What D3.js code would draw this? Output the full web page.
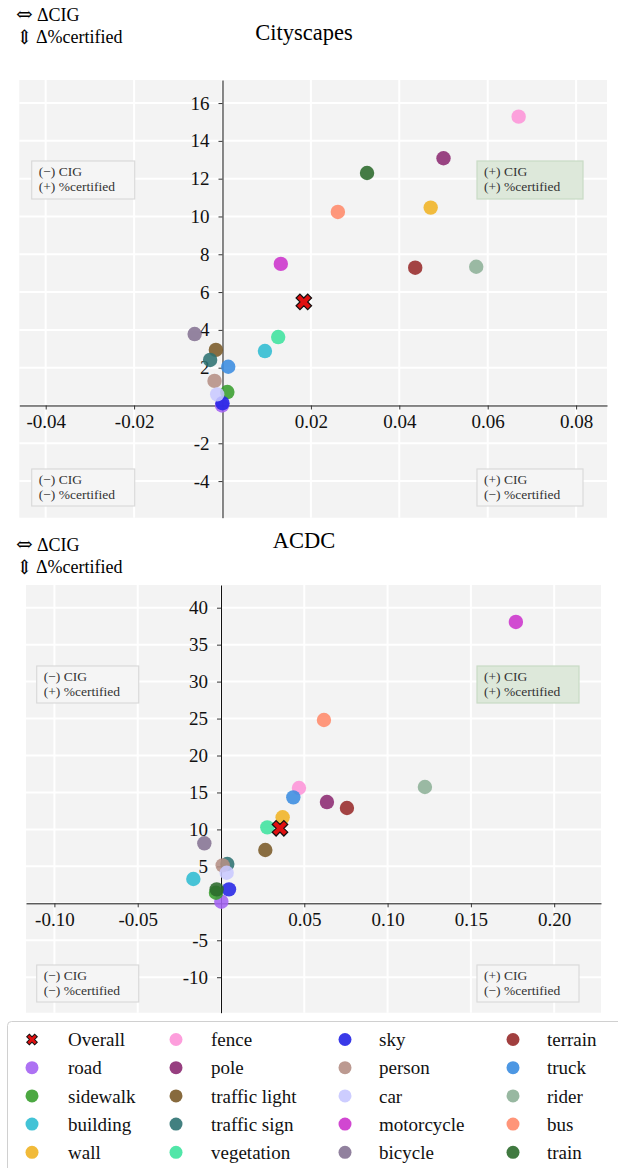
<!DOCTYPE html>
<html>
<head>
<meta charset="utf-8">
<script src="https://cdn.jsdelivr.net/npm/d3@7"></script>
<style>
  body { margin: 0; background: #fff; }
  svg, svg text { font-family: 'Liberation Serif', 'Times New Roman', Times, 'DejaVu Serif', serif !important; }
  svg text.arrow { font-family: 'DejaVu Serif', 'DejaVu Sans', serif !important; }
</style>
</head>
<body>
<div id="chart"></div>
<script>
// --- data (legend order) ---
const classes = ["road", "sidewalk", "building", "wall", "fence", "pole", "traffic light",
  "traffic sign", "vegetation", "sky", "person", "car", "motorcycle", "bicycle",
  "terrain", "truck", "rider", "bus", "train"];
const classColors = ["#a463f2", "#389e2e", "#2fbcd2", "#f0b323", "#fd94d8", "#8c2a72", "#7a5a28",
  "#2e7272", "#3ee39e", "#2424e6", "#b58f85", "#c8c8ff", "#cc33cc", "#857393",
  "#972a2a", "#3a8ce0", "#8db097", "#ff8a6a", "#2b6a2b"];

// Cityscapes: delta CIG (x) and delta %certified (y)
const cityCIG  = [-0.0001, 0.0011, 0.0096, 0.0471, 0.0670, 0.0500, -0.0015,
  -0.0028, 0.0126, 0.0000, -0.0018, -0.0012, 0.0132, -0.0063,
  0.0436, 0.0013, 0.0574, 0.0261, 0.0327];
const cityCert = [0.00, 0.71, 2.88, 10.47, 15.28, 13.08, 2.94,
  2.41, 3.62, 0.12, 1.30, 0.59, 7.49, 3.78,
  7.29, 2.05, 7.34, 10.24, 12.30];
const cityOverall = [0.0184, 5.48];

// ACDC
const acdcCIG  = [0.0002, -0.0030, -0.0166, 0.0370, 0.0468, 0.0636, 0.0266,
  0.0038, 0.0278, 0.0048, 0.0010, 0.0034, 0.1770, -0.0100,
  0.0756, 0.0434, 0.1224, 0.0618, -0.0026];
const acdcCert = [0.22, 1.43, 3.29, 11.64, 15.60, 13.70, 7.21,
  5.32, 10.28, 1.89, 5.14, 4.14, 38.07, 8.12,
  12.90, 14.34, 15.74, 24.80, 1.89];
const acdcOverall = [0.0354, 10.15];

// ticks
const cityXTicks = [-0.04, -0.02, 0.02, 0.04, 0.06, 0.08];
const cityYTicks = [-4, -2, 2, 4, 6, 8, 10, 12, 14, 16];
const acdcXTicks = [-0.10, -0.05, 0.05, 0.10, 0.15, 0.20];
const acdcYTicks = [-10, -5, 5, 10, 15, 20, 25, 30, 35, 40];

const quadText = {
  tl: ["(\u2212) CIG", "(+) %certified"],
  tr: ["(+) CIG", "(+) %certified"],
  bl: ["(\u2212) CIG", "(\u2212) %certified"],
  br: ["(+) CIG", "(\u2212) %certified"]
};

// --- svg root ---
const svg = d3.select("#chart").append("svg")
  .attr("width", 618)
  .attr("height", 1168);

const crossPath = d3.symbol().type(d3.symbolCross);

function drawPanel(cfg) {
  const x = d3.scaleLinear().domain(cfg.xDomain).range([cfg.left, cfg.right]);
  const y = d3.scaleLinear().domain(cfg.yDomain).range([cfg.bottom, cfg.top]);
  const g = svg.append("g");

  // header texts: arrow glyphs + labels
  g.append("text").attr("class", "arrow").attr("x", 16).attr("y", cfg.headY)
    .style("font-size", "20px").text("\u21D4");
  g.append("text").attr("x", 37).attr("y", cfg.headY)
    .style("font-size", "18px").text("\u0394CIG");
  g.append("text").attr("class", "arrow").attr("x", 16).attr("y", cfg.headY + 23)
    .style("font-size", "20px").text("\u21D5");
  g.append("text").attr("x", 36).attr("y", cfg.headY + 22)
    .style("font-size", "18px").text("\u0394%certified");
  g.append("text").attr("x", cfg.titleX).attr("y", cfg.titleY)
    .attr("text-anchor", "middle")
    .style("font-size", "22.5px")
    .text(cfg.title);

  // background
  g.append("rect")
    .attr("x", cfg.left).attr("y", cfg.top)
    .attr("width", cfg.right - cfg.left).attr("height", cfg.bottom - cfg.top)
    .attr("fill", "#f3f3f3");

  // grid
  g.selectAll(".vgrid").data(cfg.xTicks.concat([0])).enter().append("line")
    .attr("x1", d => x(d)).attr("x2", d => x(d))
    .attr("y1", cfg.top).attr("y2", cfg.bottom)
    .attr("stroke", "#fff").attr("stroke-width", 2);
  g.selectAll(".hgrid").data(cfg.yTicks.concat([0])).enter().append("line")
    .attr("y1", d => y(d)).attr("y2", d => y(d))
    .attr("x1", cfg.left).attr("x2", cfg.right)
    .attr("stroke", "#fff").attr("stroke-width", 2);

  // quadrant boxes
  cfg.boxes.forEach(b => {
    const bg = g.append("g");
    bg.append("rect")
      .attr("x", b.x).attr("y", b.y).attr("width", b.w).attr("height", b.h)
      .attr("fill", b.green ? "#dde8da" : "#f5f5f5")
      .attr("stroke", b.green ? "#c9dbc5" : "#dadada")
      .attr("stroke-width", 1.2);
    quadText[b.q].forEach((t, i) => {
      bg.append("text")
        .attr("x", b.x + 7).attr("y", b.y + 15 + i * 15)
        .style("font-size", "13.5px").attr("fill", "#333")
        .text(t);
    });
  });

  // axes through zero
  const fmtX = d => d.toFixed(2);
  const xAxis = g.append("g")
    .attr("transform", `translate(0,${y(0)})`)
    .call(d3.axisBottom(x).tickValues(cfg.xTicks).tickSize(4).tickSizeOuter(0)
      .tickPadding(5).tickFormat(fmtX));
  const yAxis = g.append("g")
    .attr("transform", `translate(${x(0)},0)`)
    .call(d3.axisLeft(y).tickValues(cfg.yTicks).tickSize(4).tickSizeOuter(0)
      .tickPadding(9).tickFormat(d => String(d)));
  [xAxis, yAxis].forEach(a => {
    a.attr("font-family", null);
    a.selectAll("text").style("font-size", "19px").attr("fill", "#111");
    a.select(".domain").attr("stroke", "#111");
    a.selectAll(".tick line").attr("stroke", "#333");
  });

  // points
  const pts = classes.map((c, i) => ({ c, color: classColors[i], cx: cfg.cig[i], cy: cfg.cert[i] }));
  g.selectAll(".pt").data(pts).enter().append("circle")
    .attr("cx", d => x(d.cx)).attr("cy", d => y(d.cy))
    .attr("r", 7.2)
    .attr("fill", d => d.color)
    .attr("fill-opacity", 0.88);

  // overall marker
  g.append("path")
    .attr("d", crossPath.size(150)())
    .attr("transform", `translate(${x(cfg.overall[0])},${y(cfg.overall[1])}) rotate(45)`)
    .attr("fill", "#e01010").attr("stroke", "#111").attr("stroke-width", 1.2);
}

drawPanel({
  title: "Cityscapes", titleX: 304, titleY: 40, headY: 21,
  left: 19.3, right: 607, top: 80, bottom: 517.7,
  xDomain: [-0.04597, 0.08699], yDomain: [-5.937, 17.22],
  xTicks: cityXTicks, yTicks: cityYTicks,
  cig: cityCIG, cert: cityCert, overall: cityOverall,
  boxes: [
    { q: "tl", x: 31.7, y: 161, w: 103, h: 38 },
    { q: "tr", x: 477, y: 161, w: 106, h: 38, green: true },
    { q: "bl", x: 31.7, y: 469, w: 103, h: 37 },
    { q: "br", x: 477, y: 469, w: 106, h: 37 }
  ]
});

drawPanel({
  title: "ACDC", titleX: 304, titleY: 548, headY: 551,
  left: 26, right: 601, top: 585, bottom: 1012.7,
  xDomain: [-0.11705, 0.2281], yDomain: [-14.80, 43.07],
  xTicks: acdcXTicks, yTicks: acdcYTicks,
  cig: acdcCIG, cert: acdcCert, overall: acdcOverall,
  boxes: [
    { q: "tl", x: 36.7, y: 666, w: 102, h: 37 },
    { q: "tr", x: 477, y: 666, w: 102, h: 37, green: true },
    { q: "bl", x: 36.7, y: 965, w: 102, h: 37 },
    { q: "br", x: 477, y: 965, w: 102, h: 37 }
  ]
});

// --- legend ---
const legendItems = [{ name: "Overall", overall: true }]
  .concat(classes.map((c, i) => ({ name: c, color: classColors[i] })));
const colMarkX = [32, 176, 345, 513];
const colTextX = [68, 211, 379, 547];

svg.append("rect")
  .attr("x", 7.5).attr("y", 1021.5).attr("width", 640).attr("height", 170)
  .attr("rx", 4).attr("fill", "#fff").attr("stroke", "#d0d0d0");

legendItems.forEach((d, i) => {
  const col = Math.floor(i / 5), row = i % 5;
  const cy = 1039.5 + row * 28.2;
  if (d.overall) {
    svg.append("path")
      .attr("d", crossPath.size(70)())
      .attr("transform", `translate(${colMarkX[col]},${cy}) rotate(45)`)
      .attr("fill", "#e01010").attr("stroke", "#111").attr("stroke-width", 1);
  } else {
    svg.append("circle")
      .attr("cx", colMarkX[col]).attr("cy", cy).attr("r", 6.5)
      .attr("fill", d.color).attr("fill-opacity", 0.9);
  }
  svg.append("text")
    .attr("x", colTextX[col]).attr("y", cy)
    .attr("dy", "0.35em")
    .style("font-size", "19px").attr("fill", "#111")
    .text(d.name);
});
</script>
</body>
</html>
